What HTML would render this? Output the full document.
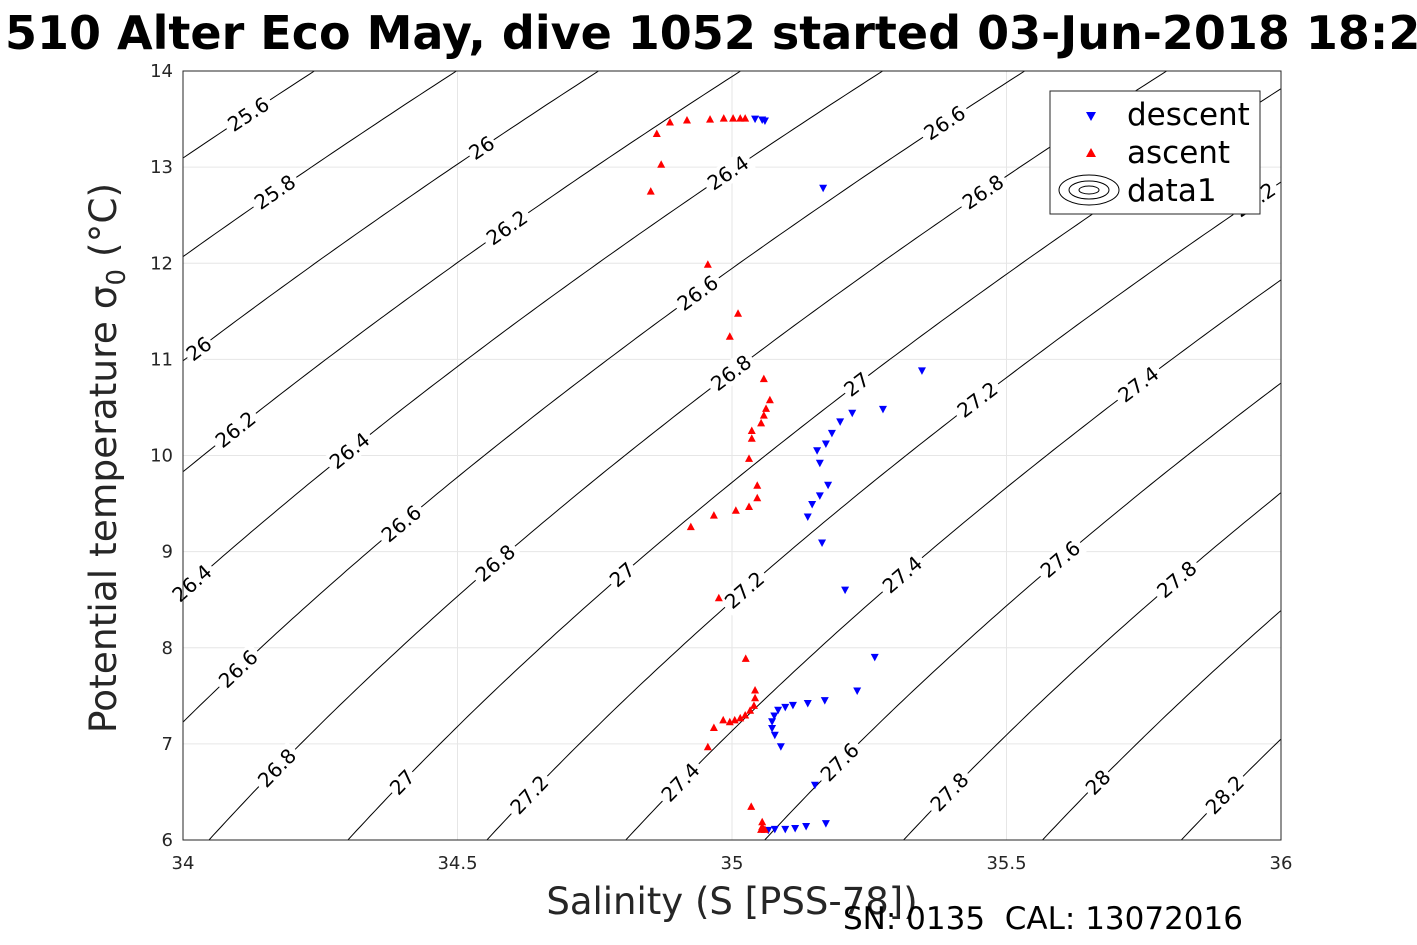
<!DOCTYPE html>
<html><head><meta charset="utf-8"><style>
body{margin:0;background:#fff;}
svg{display:block;font-family:"DejaVu Sans","Liberation Sans",sans-serif;}
</style></head><body>
<svg id="chart" width="1417" height="945" viewBox="0 0 1417 945">
<defs><clipPath id="plotclip"><rect x="183" y="71" width="1098" height="769"/></clipPath></defs>
<rect x="183" y="71" width="1098" height="769" fill="#fff"/>
<g id="grid"></g>
<g id="contours" clip-path="url(#plotclip)"></g>
<g id="clabels"></g>
<g id="points"></g>
<rect x="183" y="71" width="1098" height="769" fill="none" stroke="#262626" stroke-width="1"/>
<g id="ticks"></g>
<text x="5" y="49" font-size="46" font-weight="bold" fill="#000">510 Alter Eco May, dive 1052 started 03-Jun-2018 18:2</text>
<text transform="translate(116,458) rotate(-90)" text-anchor="middle" font-size="37.5" fill="#262626">Potential temperature σ<tspan font-size="26" dy="9">0</tspan><tspan dy="-9"> (°C)</tspan></text>
<text x="732" y="914" text-anchor="middle" font-size="37" fill="#262626">Salinity (S [PSS-78])</text>
<text x="843" y="929" font-size="31" fill="#000">SN: 0135&#160; CAL: 13072016</text>
<g>
<rect x="1050" y="91" width="210" height="123" fill="#fff" stroke="#262626" stroke-width="1"/>
<polygon points="1086,112 1096,112 1091,121" fill="#00f"/>
<text x="1127" y="125" font-size="31" fill="#000">descent</text>
<polygon points="1086,157 1096,157 1091,148" fill="#f00"/>
<text x="1127" y="163" font-size="31" fill="#000">ascent</text>
<g fill="none" stroke="#000" stroke-width="1">
<ellipse cx="1089" cy="190" rx="30" ry="15"/><ellipse cx="1089" cy="190" rx="20" ry="9"/><ellipse cx="1089" cy="190" rx="10" ry="4"/></g>
<text x="1127" y="201" font-size="31" fill="#000">data1</text>
</g>
</svg>
<script>
const xTicks=[34,34.5,35,35.5,36];
const yTicks=[6,7,8,9,10,11,12,13,14];
const levels=[25.6,25.8,26,26.2,26.4,26.6,26.8,27,27.2,27.4,27.6,27.8,28,28.2];
const labelLevels=[25.6,25.8,26,26,26.2,26.2,26.4,26.4,26.4,26.6,26.6,26.6,26.6,26.8,26.8,26.8,26.8,27,27,27,27.2,27.2,27.2,27.2,27.4,27.4,27.4,27.6,27.6,27.8,27.8,28,28.2];
const labelTemps=[13.55,12.74,13.2,11.11,12.37,10.27,12.94,10.05,8.67,13.46,11.69,9.29,7.78,12.74,10.86,8.88,6.75,10.74,8.76,6.60,12.66,10.58,8.60,6.47,10.74,8.76,6.60,8.92,6.81,8.71,6.50,6.60,6.47];
const descentS=[35.042,35.055,35.060,35.166,35.346,35.275,35.219,35.197,35.182,35.171,35.155,35.160,35.175,35.160,35.146,35.138,35.164,35.206,35.260,35.228,35.169,35.138,35.111,35.097,35.084,35.077,35.073,35.073,35.078,35.089,35.151,35.171,35.135,35.115,35.097,35.078,35.066];
const descentT=[13.50,13.49,13.48,12.78,10.88,10.48,10.44,10.35,10.23,10.12,10.05,9.92,9.69,9.58,9.49,9.36,9.09,8.60,7.90,7.55,7.45,7.42,7.40,7.38,7.35,7.29,7.23,7.16,7.09,6.97,6.57,6.17,6.14,6.12,6.11,6.11,6.10];
const ascentS=[34.852,34.871,34.863,34.887,34.918,34.960,34.985,35.002,35.015,35.024,34.956,35.011,34.996,35.058,35.069,35.062,35.058,35.053,35.036,35.036,35.031,35.046,35.046,35.031,35.007,34.967,34.925,34.976,35.025,35.042,35.042,35.040,35.033,35.024,35.015,35.005,34.996,34.984,34.967,34.956,35.035,35.055,35.055,35.060,35.053];
const ascentT=[12.75,13.03,13.35,13.47,13.49,13.50,13.51,13.51,13.51,13.51,11.99,11.48,11.24,10.80,10.58,10.49,10.42,10.34,10.26,10.18,9.97,9.69,9.56,9.47,9.43,9.38,9.26,8.52,7.89,7.56,7.48,7.40,7.35,7.30,7.27,7.25,7.23,7.25,7.17,6.97,6.35,6.19,6.14,6.11,6.11];

const X0=183,X1=1281,Y0=840,Y1=71;
const xs=s=>X0+(s-34)/2*(X1-X0);
const ys=t=>Y0-(t-6)/8*(Y0-Y1);
const NS='http://www.w3.org/2000/svg';
function mk(tag,attrs,parent){const e=document.createElementNS(NS,tag);for(const k in attrs)e.setAttribute(k,attrs[k]);parent.appendChild(e);return e;}
function sigma(S,T){
 const rw=999.842594+6.793952e-2*T-9.095290e-3*T*T+1.001685e-4*T**3-1.120083e-6*T**4+6.536332e-9*T**5;
 const B=0.824493-4.0899e-3*T+7.6438e-5*T*T-8.2467e-7*T**3+5.3875e-9*T**4;
 const C=-5.72466e-3+1.0227e-4*T-1.6546e-6*T*T;
 return rw+S*B+Math.pow(S,1.5)*C+4.8314e-4*S*S-1000;
}
function solveS(lev,T){let a=30,b=40;for(let i=0;i<50;i++){const m=(a+b)/2;if(sigma(m,T)<lev)a=m;else b=m;}return (a+b)/2;}

const grid=document.getElementById('grid'),ticks=document.getElementById('ticks');
xTicks.forEach(v=>{
 const l=mk('line',{x1:xs(v),x2:xs(v),y1:Y1,y2:Y0,stroke:'#e6e6e6','stroke-width':1},grid);
 
 
 const t=mk('text',{x:xs(v),y:869,'text-anchor':'middle','font-size':18,fill:'#262626'},ticks);
 t.textContent=String(v);
 
 
});
yTicks.forEach(v=>{
 const l=mk('line',{x1:X0,x2:X1,y1:ys(v),y2:ys(v),stroke:'#e6e6e6','stroke-width':1},grid);
 
 
 const t=mk('text',{x:173,y:ys(v)+6,'text-anchor':'end','font-size':18,fill:'#262626'},ticks);
 t.textContent=String(v);
 
 
});
const cg=document.getElementById('contours');
levels.forEach(lev=>{
 let d='';
 for(let T=5.8;T<=14.25;T+=0.05){const S=solveS(lev,T);d+=(d?'L':'M')+xs(S).toFixed(1)+','+ys(T).toFixed(1);}
 const p=mk('path',{d:d,fill:'none',stroke:'#000','stroke-width':1},cg);
 
 
});
const lg=document.getElementById('clabels');
labelLevels.forEach((lev,i)=>{
 const T=labelTemps[i],S=solveS(lev,T);
 const S2=solveS(lev,T+0.1);
 const dx=xs(S2)-xs(S),dy=ys(T+0.1)-ys(T);
 const ang=Math.atan2(dy,dx)*180/Math.PI;
 const x=xs(S),y=ys(T);
 const g=mk('g',{transform:`translate(${x.toFixed(1)},${y.toFixed(1)}) rotate(${ang.toFixed(1)})`},lg);
 
 
 const txt=String(lev);
 const w=txt.length*11.5+6;
 mk('rect',{x:-w/2,y:-11,width:w,height:22,fill:'#fff'},g);
 const t=mk('text',{x:0,y:7,'text-anchor':'middle','font-size':20,fill:'#000'},g);
 t.textContent=txt;
});
const pg=document.getElementById('points');
descentS.forEach((s,i)=>{
 const x=xs(s),y=ys(descentT[i]);
 const p=mk('polygon',{points:`${x-4},${y-3.5} ${x+4},${y-3.5} ${x},${y+4}`,fill:'#00f'},pg);
 
 
});
ascentS.forEach((s,i)=>{
 const x=xs(s),y=ys(ascentT[i]);
 const p=mk('polygon',{points:`${x-4},${y+3.5} ${x+4},${y+3.5} ${x},${y-4}`,fill:'#f00'},pg);
 
 
});
</script>
</body></html>
